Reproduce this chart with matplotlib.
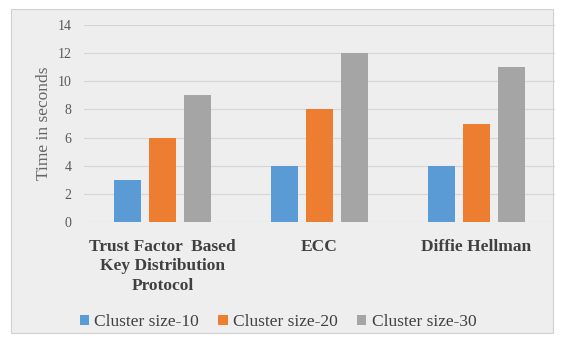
import numpy as np
import matplotlib
matplotlib.use('Agg')
import matplotlib.pyplot as plt
from matplotlib.patches import Rectangle

categories = ['Trust Factor  Based\nKey Distribution\nProtocol', 'ECC', 'Diffie Hellman']
series_names = ['Cluster size-10', 'Cluster size-20', 'Cluster size-30']
size_10 = [3, 4, 4]
size_20 = [6, 8, 7]
size_30 = [9, 12, 11]
colors = ['#5B9BD5', '#ED7D31', '#A5A5A5']

plt.rcParams['font.family'] = ['Liberation Serif', 'DejaVu Serif']

fig = plt.figure(figsize=(5.61, 3.42), dpi=100)
# outer chart box
fig.patches.append(Rectangle((11 / 561, 1 - 333 / 342), 542 / 561, 324 / 342,
                             transform=fig.transFigure, facecolor='#EEEEEE',
                             edgecolor='#D0D0D0', linewidth=0.8, zorder=-10))

ax = fig.add_axes([84 / 561, 1 - 222 / 342, 471 / 561, 197 / 342])
ax.set_facecolor('none')

x = np.arange(len(categories))
width = 0.178
offset = 0.223
for i, vals in enumerate([size_10, size_20, size_30]):
    ax.bar(x + (i - 1) * offset, vals, width, color=colors[i], label=series_names[i], zorder=3)

ax.set_xlim(-0.5, 2.5)
ax.set_ylim(0, 14)
ax.set_yticks(range(0, 15, 2))
ax.yaxis.grid(True, color='#D6D6D6', linewidth=0.8, zorder=0)
ax.set_axisbelow(True)
ax.set_xticks(x)
ax.set_xticklabels(categories, fontsize=12.5, fontweight='bold', color='#404040', linespacing=1.3)
ax.tick_params(axis='y', labelsize=10, labelcolor='#595959', length=0, pad=9)
ax.tick_params(axis='x', length=0, pad=12)
for s in ax.spines.values():
    s.set_visible(False)
ax.set_ylabel('Time in seconds', fontsize=12.5, color='#666666', labelpad=4)

ax.legend(loc='center', bbox_to_anchor=(278 / 561, 1 - 322 / 342), bbox_transform=fig.transFigure,
          ncol=3, frameon=False, fontsize=12.5, handlelength=0.55, handleheight=0.55,
          handletextpad=0.3, columnspacing=1.1, labelcolor='#404040')

plt.savefig('out.png', dpi=100)
